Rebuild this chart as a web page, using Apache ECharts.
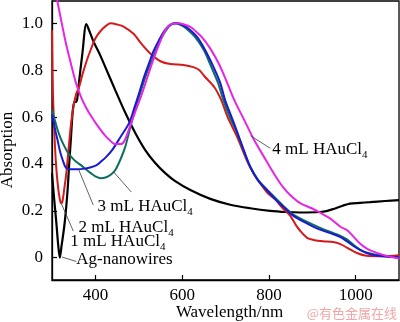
<!DOCTYPE html>
<html>
<head>
<meta charset="utf-8">
<script src="https://cdn.jsdelivr.net/npm/echarts@6/dist/echarts.min.js"></script>
<style>
  html, body { margin: 0; padding: 0; background: #fff; }
  #chart { width: 400px; height: 322px; }
</style>
</head>
<body>
<div id="chart"></div>
<script>
// UV-vis absorption spectra, [wavelength (nm), normalised absorption]
const agNanowires = [
  [300,0.36],[305,0.25],[310,0.15],[314,0.06],[318,0.0],[322,0.05],[328,0.13],[332,0.2],
  [336,0.29],[340,0.41],[344,0.52],[348,0.63],[352,0.665],[356,0.665],[359,0.69],[362,0.745],
  [370,0.87],[379,0.997],[383,0.982],[395,0.925],[412,0.86],[429,0.787],[446,0.714],[469,0.618],
  [492,0.532],[515,0.459],[538,0.404],[561,0.361],[584,0.327],[619,0.289],[665,0.251],[711,0.226],
  [757,0.211],[803,0.2],[840,0.195],[872,0.193],[918,0.195],[935,0.2],[949,0.208],[970,0.222],
  [987,0.231],[1010,0.234],[1033,0.237],[1068,0.242],[1100,0.246]
];
const haucl1 = [
  [300,0.97],[301,0.82],[302,0.72],[304,0.6],[307,0.47],[310,0.38],[314,0.3],[318,0.25],
  [321,0.232],[324,0.24],[328,0.29],[333,0.36],[338,0.46],[344,0.573],[350,0.65],[356,0.7],
  [362,0.725],[370,0.78],[380,0.84],[389,0.886],[400,0.935],[412,0.967],[425,0.99],[435,1.0],
  [450,0.995],[465,0.986],[488,0.955],[505,0.915],[527,0.87],[550,0.838],[573,0.826],[603,0.822],
  [626,0.813],[640,0.8],[651,0.775],[674,0.728],[690,0.673],[705,0.6],[727,0.515],[757,0.385],
  [795,0.28],[815,0.248],[830,0.215],[849,0.18],[862,0.14],[872,0.115],[888,0.085],[903,0.076],
  [925,0.07],[948,0.067],[965,0.058],[980,0.043],[1003,0.02],[1025,0.008],[1060,0.006],[1100,0.011]
];
const haucl2 = [
  [300,0.61],[303,0.585],[308,0.54],[313,0.5],[319,0.45],[325,0.415],[330,0.39],[335,0.38],
  [345,0.377],[359,0.377],[375,0.38],[390,0.386],[403,0.395],[413,0.41],[425,0.43],[439,0.46],
  [458,0.515],[478,0.575],[490,0.64],[501,0.703],[512,0.77],[524,0.831],[535,0.885],[547,0.929],
  [558,0.965],[570,0.99],[580,0.999],[588,1.0],[598,0.995],[610,0.984],[634,0.943],[653,0.886],
  [672,0.815],[688,0.745],[699,0.673],[713,0.605],[727,0.536],[742,0.46],[757,0.388],[775,0.33],
  [795,0.289],[813,0.252],[833,0.218],[852,0.185],[872,0.161],[903,0.132],[918,0.12],[949,0.1],
  [965,0.088],[980,0.07],[995,0.05],[1010,0.033],[1025,0.02],[1041,0.012],[1070,0.005],[1100,0.002]
];
const haucl3 = [
  [300,0.63],[306,0.59],[313,0.545],[321,0.505],[329,0.474],[336,0.45],[344,0.431],[355,0.41],
  [367,0.395],[378,0.377],[390,0.36],[400,0.347],[412,0.339],[425,0.343],[436,0.355],[446,0.374],
  [458,0.42],[469,0.474],[477,0.53],[485,0.588],[496,0.66],[508,0.73],[519,0.79],[531,0.843],
  [542,0.895],[554,0.943],[566,0.978],[575,0.995],[583,1.0],[593,0.996],[605,0.984],[629,0.943],
  [650,0.886],[667,0.815],[683,0.745],[695,0.673],[710,0.6],[726,0.536],[741,0.46],[757,0.388],
  [775,0.332],[796,0.29],[815,0.255],[833,0.222],[852,0.19],[872,0.168],[903,0.14],[925,0.122],
  [949,0.105],[965,0.093],[980,0.078],[995,0.055],[1010,0.035],[1025,0.022],[1041,0.015],
  [1070,0.006],[1100,0.003]
];
const haucl4 = [
  [300,1.25],[306,1.17],[312,1.099],[322,1.005],[333,0.907],[345,0.818],[356,0.741],[368,0.681],
  [379,0.639],[393,0.596],[407,0.558],[421,0.524],[435,0.498],[444,0.485],[458,0.485],[467,0.498],
  [485,0.588],[508,0.703],[531,0.831],[554,0.943],[565,0.98],[577,0.998],[591,1.0],[605,0.995],
  [619,0.985],[632,0.965],[646,0.94],[665,0.892],[685,0.826],[703,0.75],[720,0.673],[743,0.588],
  [766,0.502],[793,0.417],[818,0.34],[833,0.3],[849,0.268],[872,0.233],[900,0.21],[920,0.19],
  [941,0.168],[965,0.132],[980,0.118],[995,0.09],[1010,0.061],[1025,0.04],[1041,0.026],
  [1072,0.007],[1100,-0.003]
];

const xTicks = [400, 600, 800, 1000];
const yTicks = [0, 0.2, 0.4, 0.6, 0.8, 1.0];

// curve labels: text anchor (left, middle) and leader line, in data coordinates
const curveLabels = [
  { main: '4 mL HAuCl', sub: '4', at: [808, 0.462], from: [758, 0.52], to: [803, 0.467] },
  { main: '3 mL HAuCl', sub: '4', at: [405, 0.218], from: [442, 0.366], to: [483, 0.28] },
  { main: '2 mL HAuCl', sub: '4', at: [361, 0.13], from: [361, 0.378], to: [395, 0.225] },
  { main: '1 mL HAuCl', sub: '4', at: [342, 0.07], from: [322, 0.229], to: [349, 0.114] },
  { main: 'Ag-nanowires', sub: '', at: [356, -0.008], from: [323, 0.003], to: [356, -0.016] }
];

const SERIF = '"Liberation Serif", "DejaVu Serif", serif';

const chart = echarts.init(document.getElementById('chart'), null, { renderer: 'canvas' });

function lineSeries(name, data, color, width) {
  return {
    name: name, type: 'line', data: data,
    showSymbol: false, smooth: 0.3,
    lineStyle: { color: color, width: width },
    itemStyle: { color: color },
    z: 3
  };
}

chart.setOption({
  animation: false,
  backgroundColor: '#fff',
  grid: {
    left: 52, right: 1, top: 1, bottom: 42,
    outerBoundsMode: 'none', containLabel: false,
    show: true, borderColor: '#000', borderWidth: 1.3
  },
  xAxis: {
    type: 'value', min: 300, max: 1100,
    name: 'Wavelength/nm', nameLocation: 'middle', nameGap: 24, nameMoveOverlap: false,
    nameTextStyle: { fontFamily: SERIF, fontSize: 17, color: '#000', padding: [0, 0, 0, 8] },
    axisLine: { show: true, onZero: false, lineStyle: { color: '#000', width: 1.3 } },
    axisTick: { show: true, inside: true, length: 5, customValues: xTicks, lineStyle: { color: '#000', width: 1.2 } },
    axisLabel: {
      customValues: xTicks, fontFamily: SERIF, fontSize: 17, color: '#000', margin: 7,
      formatter: function (v) { return String(v); }
    },
    splitLine: { show: false }
  },
  yAxis: {
    type: 'value', min: -0.095, max: 1.095,
    axisLine: { show: true, onZero: false, lineStyle: { color: '#000', width: 1.3 } },
    axisTick: { show: true, inside: true, length: 5, customValues: yTicks, lineStyle: { color: '#000', width: 1.2 } },
    axisLabel: {
      customValues: yTicks, fontFamily: SERIF, fontSize: 17, color: '#000', margin: 9,
      formatter: function (v) { return v === 0 ? '0' : v.toFixed(1); }
    },
    splitLine: { show: false }
  },
  series: [
    lineSeries('Ag-nanowires', agNanowires, '#000000', 2.2),
    lineSeries('1 mL HAuCl4', haucl1, '#d41a1a', 2),
    lineSeries('3 mL HAuCl4', haucl3, '#0d6e60', 2),
    lineSeries('2 mL HAuCl4', haucl2, '#1a1ad2', 2),
    lineSeries('4 mL HAuCl4', haucl4, '#e526e5', 2)
  ]
});

// place curve labels, leader lines, axis title and watermark
const graphics = [];
curveLabels.forEach(function (c) {
  const p0 = chart.convertToPixel({ gridIndex: 0 }, c.from);
  const p1 = chart.convertToPixel({ gridIndex: 0 }, c.to);
  const pt = chart.convertToPixel({ gridIndex: 0 }, c.at);
  graphics.push({
    type: 'line', silent: true, z: 10,
    shape: { x1: p0[0], y1: p0[1], x2: p1[0], y2: p1[1] },
    style: { stroke: '#3a3a3a', lineWidth: 0.8 }
  });
  graphics.push({
    type: 'text', silent: true, z: 10, x: pt[0], y: pt[1],
    style: {
      text: c.sub ? c.main + '{s|' + c.sub + '}' : c.main,
      fontFamily: SERIF, fontSize: 17, fill: '#000',
      align: 'left', verticalAlign: 'middle', lineHeight: 22,
      rich: { s: { fontFamily: SERIF, fontSize: 11, fill: '#000', verticalAlign: 'bottom', lineHeight: 12 } }
    }
  });
});
graphics.push({
  type: 'text', silent: true, x: 8, y: 150, rotation: Math.PI / 2,
  style: { text: 'Absorption', fontFamily: SERIF, fontSize: 17, fill: '#000', align: 'center', verticalAlign: 'middle' }
});
graphics.push({
  type: 'text', silent: true, right: 3, bottom: 2,
  style: { text: '@有色金属在线', fontFamily: '"Noto Sans CJK SC", sans-serif', fontSize: 13, fill: '#f2a6a6' }
});
chart.setOption({ graphic: graphics });
</script>
</body>
</html>
